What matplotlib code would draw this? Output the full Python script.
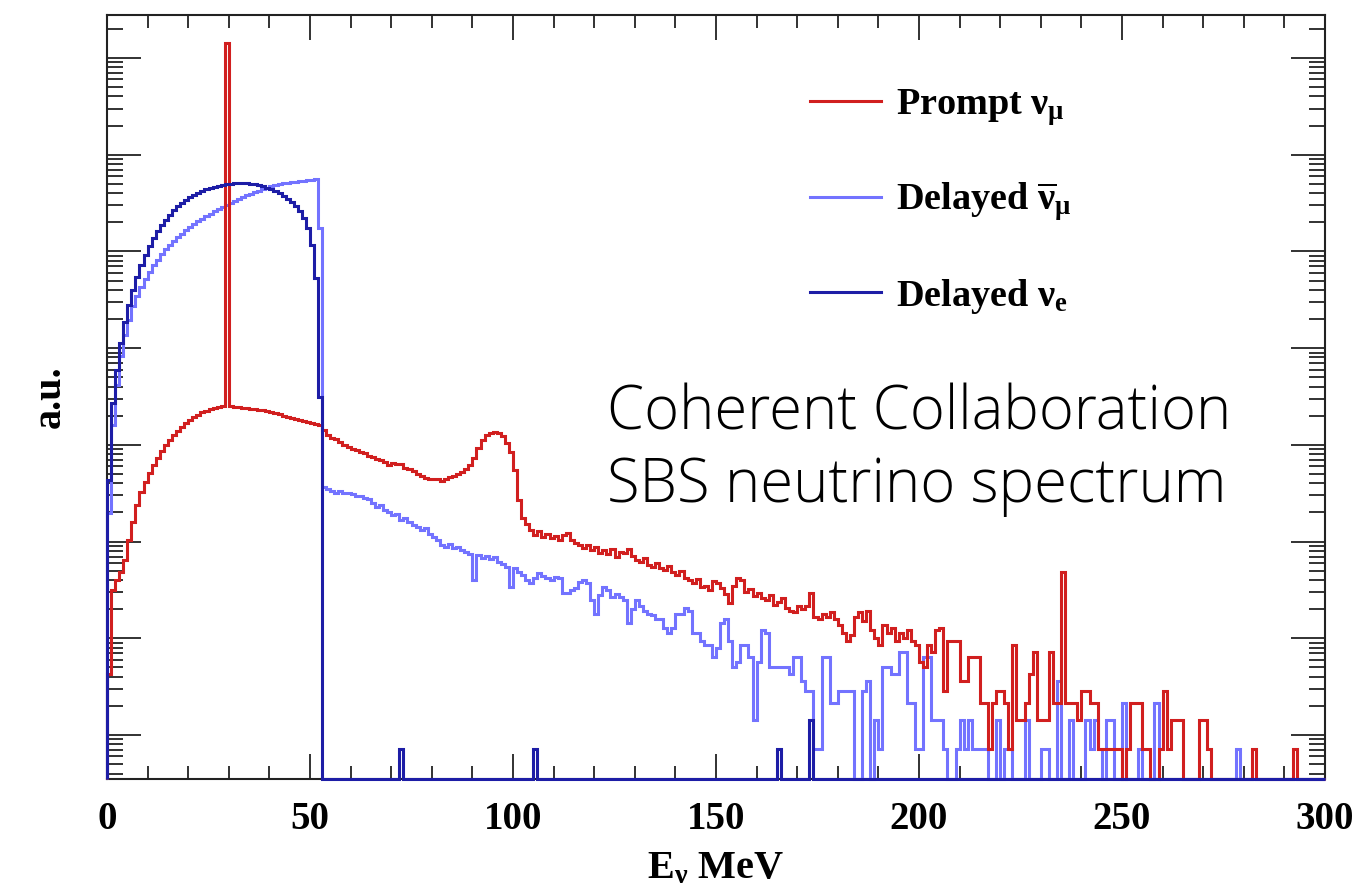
import numpy as np
import matplotlib
matplotlib.use("Agg")
import matplotlib.pyplot as plt
from matplotlib.lines import Line2D
from matplotlib.ticker import MultipleLocator, LogLocator, NullFormatter

plt.rcParams["font.family"] = "Liberation Serif"
plt.rcParams["font.weight"] = "bold"
plt.rcParams["mathtext.fontset"] = "custom"
plt.rcParams["mathtext.rm"] = "Liberation Serif:bold"
plt.rcParams["mathtext.it"] = "Liberation Serif:bold"
plt.rcParams["mathtext.bf"] = "Liberation Serif:bold"

# 1 MeV bins from 0 to 300 MeV
edges = np.arange(0, 301, 1)

# entries per bin, scaled to a.u. below
prompt_numu = [
    6, 44, 56, 67, 90, 144, 221, 332, 453, 573,
    710, 859, 1010, 1200, 1380, 1560, 1750, 1930, 2120, 2330,
    2500, 2690, 2860, 3030, 3140, 3250, 3330, 3410, 3490, 2.01e7,
    3490, 3450, 3410, 3370, 3330, 3290, 3250, 3220, 3180, 3100,
    3030, 2960, 2890, 2790, 2690, 2630, 2560, 2500, 2440, 2390,
    2330, 2280, 2220, 1970, 1750, 1630, 1600, 1480, 1380, 1320,
    1260, 1230, 1170, 1140, 1060, 1040, 990, 968, 923, 870,
    901, 880, 880, 800, 781, 740, 693, 661, 630, 615,
    615, 620, 587, 615, 645, 661, 693, 727, 781, 859,
    1010, 1290, 1560, 1750, 1840, 1880, 1840, 1710, 1450, 1170,
    763, 374, 243, 211, 183, 162, 178, 155, 166, 151,
    159, 144, 162, 170, 144, 134, 128, 119, 128, 114,
    122, 106, 114, 103, 117, 96, 108, 106, 117, 98,
    90, 85, 94, 80, 76, 83, 74, 71, 78, 67,
    63, 69, 58, 56, 52, 57, 47, 49, 44, 54,
    52, 46, 40, 32, 48, 58, 56, 42, 45, 38,
    41, 36, 35, 39, 31, 33, 36, 29, 27, 26,
    30, 28, 30, 41, 23, 22, 25, 23, 26, 22,
    19, 16, 13, 15, 23, 26, 21, 27, 17, 14,
    12, 19, 16, 18, 13, 16, 14, 17, 13, 12,
    8, 7, 12, 10, 17, 18, 4, 13, 13, 13,
    5, 5, 9, 9, 9, 3, 3, 1, 3, 4,
    4, 3, 1, 12, 2, 2, 3, 6, 10, 2,
    2, 2, 10, 3, 3, 67, 3, 3, 3, 2,
    4, 4, 3, 3, 1, 1, 1, 1, 1, 1,
    0, 1, 3, 3, 3, 1, 1, 0, 0, 1,
    4, 1, 2, 2, 2, 0, 0, 0, 0, 2,
    2, 1, 0, 0, 0, 0, 0, 0, 0, 0,
    0, 0, 1, 0, 0, 0, 0, 0, 0, 0,
    0, 0, 1, 0, 0, 0, 0, 0, 0, 0,
]

delayed_numubar = [
    274, 2220, 5760, 11700, 18900, 27000, 37700, 47800, 59300, 71700,
    84700, 1.00e5, 1.15e5, 1.30e5, 1.46e5, 1.61e5, 1.77e5, 1.95e5, 2.12e5, 2.30e5,
    2.47e5, 2.65e5, 2.85e5, 3.02e5, 3.21e5, 3.40e5, 3.61e5, 3.79e5, 3.97e5, 4.17e5,
    4.37e5, 4.59e5, 4.81e5, 5.04e5, 5.29e5, 5.48e5, 5.68e5, 5.89e5, 6.10e5, 6.32e5,
    6.55e5, 6.70e5, 6.87e5, 7.03e5, 7.11e5, 7.20e5, 7.29e5, 7.38e5, 7.46e5, 7.55e5,
    7.64e5, 7.73e5, 2.43e5, 509, 485, 463, 441, 460, 440, 445,
    430, 410, 415, 395, 380, 348, 316, 332, 294, 281,
    261, 268, 232, 243, 221, 206, 196, 183, 192, 166,
    155, 144, 128, 122, 131, 119, 122, 114, 108, 103,
    56, 101, 94, 98, 92, 96, 85, 81, 76, 47,
    74, 67, 63, 56, 52, 58, 66, 61, 58, 56,
    60, 58, 41, 41, 44, 46, 53, 56, 52, 35,
    25, 39, 47, 44, 37, 40, 37, 35, 20, 28,
    35, 30, 27, 25, 24, 22, 22, 18, 16, 18,
    25, 25, 29, 27, 16, 16, 13, 12, 12, 9,
    11, 20, 22, 13, 7, 8, 12, 12, 9, 2,
    8, 17, 16, 7, 7, 7, 7, 7, 6, 9,
    9, 5, 4, 4, 1, 1, 9, 9, 3, 3,
    4, 4, 4, 4, 0, 0, 4, 5, 0, 2,
    1, 7, 7, 6, 6, 10, 10, 3, 3, 1,
    1, 9, 9, 2, 2, 2, 1, 0, 0, 1,
    2, 1, 2, 1, 1, 1, 1, 0, 0, 2,
    0, 1, 1, 0, 0, 0, 2, 0, 0, 0,
    1, 1, 0, 0, 5, 0, 0, 2, 0, 0,
    0, 2, 1, 2, 1, 0, 2, 2, 0, 0,
    3, 0, 0, 0, 1, 0, 0, 0, 3, 0,
    0, 0, 0, 0, 0, 0, 0, 0, 0, 0,
    0, 0, 0, 0, 0, 0, 0, 0, 1, 0,
    0, 0, 0, 0, 0, 0, 0, 0, 0, 0,
    0, 0, 0, 0, 0, 0, 0, 0, 0, 0,
]

# delayed nu_e: Michel spectrum up to 52.8 MeV plus a few stray entries
delayed_nue_low = [
    601, 3750, 8230, 15600, 25800, 38600, 55200, 75200, 1.00e5, 1.27e5,
    1.57e5, 1.90e5, 2.24e5, 2.59e5, 2.95e5, 3.33e5, 3.70e5, 4.07e5, 4.43e5, 4.75e5,
    5.04e5, 5.35e5, 5.61e5, 5.89e5, 6.10e5, 6.32e5, 6.47e5, 6.63e5, 6.79e5, 6.87e5,
    6.95e5, 7.03e5, 7.03e5, 7.03e5, 7.03e5, 6.95e5, 6.87e5, 6.70e5, 6.55e5, 6.32e5,
    6.10e5, 5.81e5, 5.55e5, 5.22e5, 4.87e5, 4.48e5, 4.07e5, 3.61e5, 3.06e5, 2.41e5,
    1.61e5, 7.34e4, 4330,
]
nue_stray_bins = [72, 105, 165, 173]
nue_stray_counts = [1, 1, 1, 2]

delayed_nue = np.zeros(300)
delayed_nue[:len(delayed_nue_low)] = delayed_nue_low
delayed_nue[nue_stray_bins] = nue_stray_counts

labels = [r"Prompt $\nu_{\mu}$", r"Delayed $\overline{\nu}_{\mu}$", r"Delayed $\nu_{e}$"]
colors = ["#d11f1f", "#7373ff", "#1d1da6"]

NORM = 0.717          # entries -> a.u.
YMIN, YMAX = 0.351, 2.78e7

fig = plt.figure(figsize=(13.52, 8.92), dpi=100)
ax = fig.add_axes([107 / 1352, 1 - 779 / 892, 1218 / 1352, 764 / 892])
ax.set_yscale("log")


def draw(vals, color, label, z):
    v = np.asarray(vals, dtype=float) * NORM
    v = np.where(v > 0, v, YMIN)
    ax.stairs(v, edges, baseline=YMIN, color=color, lw=2.2,
              label=label, zorder=z, clip_on=False)


draw(delayed_numubar, colors[1], labels[1], 3)
draw(prompt_numu, colors[0], labels[0], 3.1)
draw(delayed_nue, colors[2], labels[2], 3.2)

ax.set_xlim(0, 300)
ax.set_ylim(YMIN, YMAX)

ax.xaxis.set_major_locator(MultipleLocator(50))
ax.xaxis.set_minor_locator(MultipleLocator(10))
ax.yaxis.set_major_locator(LogLocator(base=10, numticks=20))
ax.yaxis.set_minor_locator(LogLocator(base=10, subs=np.arange(2, 10), numticks=20))
ax.yaxis.set_major_formatter(NullFormatter())
ax.yaxis.set_minor_formatter(NullFormatter())

ax.tick_params(which="both", direction="in", top=True, right=True,
               width=1.3, color="#222222")
ax.tick_params(axis="x", which="major", length=18, labelsize=28, pad=16)
ax.tick_params(axis="x", which="minor", length=9.5)
ax.tick_params(axis="y", which="major", length=24.5)
ax.tick_params(axis="y", which="minor", length=11.5)
for lab in ax.get_xticklabels():
    lab.set_fontweight("bold")
for s in ax.spines.values():
    s.set_linewidth(1.5)
    s.set_color("#222222")

fig.text(716 / 1352, 1 - 878 / 892, r"E$_{\nu}$ MeV", ha="center",
         va="baseline", fontsize=29, fontweight="bold")
fig.text(50 / 1352, 1 - 397 / 892, "a.u.", ha="center", va="center",
         rotation=90, fontsize=29, fontweight="bold")

handles = [Line2D([], [], color=c, lw=2.2) for c in colors]
ax.legend(handles, labels, loc="upper left",
          bbox_to_anchor=(684 / 1218, 1 - 53 / 764),
          frameon=False, fontsize=27.5, handlelength=1.85,
          handletextpad=0.4, labelspacing=1.38, borderpad=0)

fig.text(607 / 1352, 1 - 430 / 892, "Coherent Collaboration", ha="left",
         va="baseline", fontsize=43, family="Open Sans", fontweight="light")
fig.text(607 / 1352, 1 - 502 / 892, "SBS neutrino spectrum", ha="left",
         va="baseline", fontsize=43, family="Open Sans", fontweight="light")

fig.savefig("out.png", dpi=100)
